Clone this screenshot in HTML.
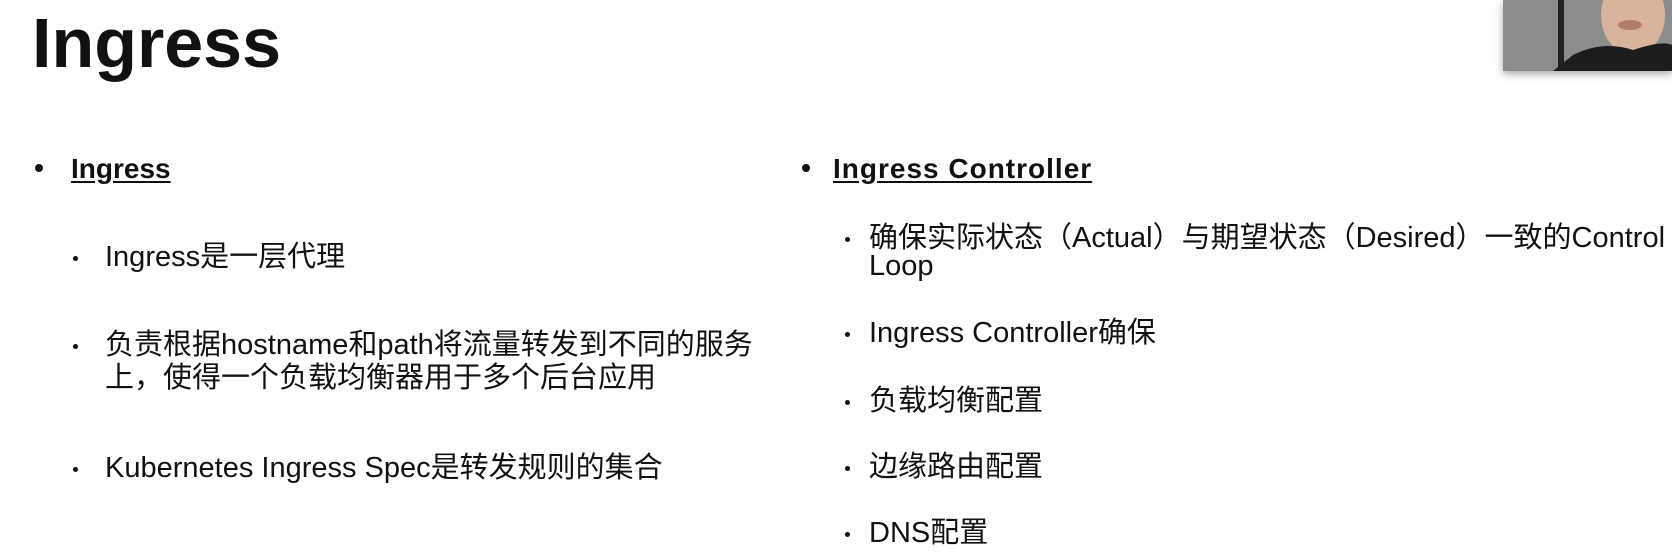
<!DOCTYPE html>
<html><head><meta charset="utf-8"><style>
html,body{margin:0;padding:0;width:1672px;height:558px;overflow:hidden;background:#fff;}
body{position:relative;font-family:"Liberation Sans","Noto Sans CJK SC",sans-serif;color:#111;}
.t{position:absolute;white-space:nowrap;line-height:1;}
.title{left:32px;top:8px;font-size:70px;font-weight:bold;}
.h{font-size:28px;font-weight:bold;text-decoration:underline;text-underline-offset:3px;}
.s{font-size:29px;}
.dot{position:absolute;border-radius:50%;background:#111;}
.big{width:8px;height:8px;}
.sm{width:5px;height:5px;}
.cam{position:absolute;left:1503px;top:0;width:169px;height:71px;background:#7d7f80;box-shadow:0 3px 8px rgba(0,0,0,.35);overflow:hidden;}
</style></head><body>
<div class="t title">Ingress</div>

<div class="dot big" style="left:35px;top:164px"></div>
<div class="t h" style="left:71px;top:155px">Ingress</div>

<div class="dot sm" style="left:73px;top:256px"></div>
<div class="t s" style="left:105px;top:243px">Ingress是一层代理</div>
<div class="dot sm" style="left:73px;top:344px"></div>
<div class="t s" style="left:105px;top:331px">负责根据hostname和path将流量转发到不同的服务</div>
<div class="t s" style="left:105px;top:364px">上，使得一个负载均衡器用于多个后台应用</div>
<div class="dot sm" style="left:73px;top:467px"></div>
<div class="t s" style="left:105px;top:454px">Kubernetes Ingress Spec是转发规则的集合</div>

<div class="dot big" style="left:802px;top:164px"></div>
<div class="t h" style="left:833px;top:155px;letter-spacing:1px">Ingress Controller</div>

<div class="dot sm" style="left:845px;top:237px"></div>
<div class="t s" style="left:869px;top:224px">确保实际状态（Actual）与期望状态（Desired）一致的Control</div>
<div class="t s" style="left:869px;top:252px">Loop</div>
<div class="dot sm" style="left:845px;top:332px"></div>
<div class="t s" style="left:869px;top:319px">Ingress Controller确保</div>
<div class="dot sm" style="left:845px;top:400px"></div>
<div class="t s" style="left:869px;top:387px">负载均衡配置</div>
<div class="dot sm" style="left:845px;top:466px"></div>
<div class="t s" style="left:869px;top:453px">边缘路由配置</div>
<div class="dot sm" style="left:845px;top:532px"></div>
<div class="t s" style="left:869px;top:519px">DNS配置</div>

<div class="cam">
<svg width="169" height="71">
<rect width="169" height="71" fill="#8a8c8d"/>
<rect x="55" y="0" width="6" height="71" fill="#222"/>
<ellipse cx="130" cy="15" rx="32" ry="40" fill="#d9b49a"/>
<path d="M50 71 L70 55 Q100 40 130 50 Q160 40 169 45 L169 71 Z" fill="#1c1c1c"/>
<ellipse cx="127" cy="25" rx="12" ry="5" fill="#b27d68"/>
</svg>
</div>
</body></html>
